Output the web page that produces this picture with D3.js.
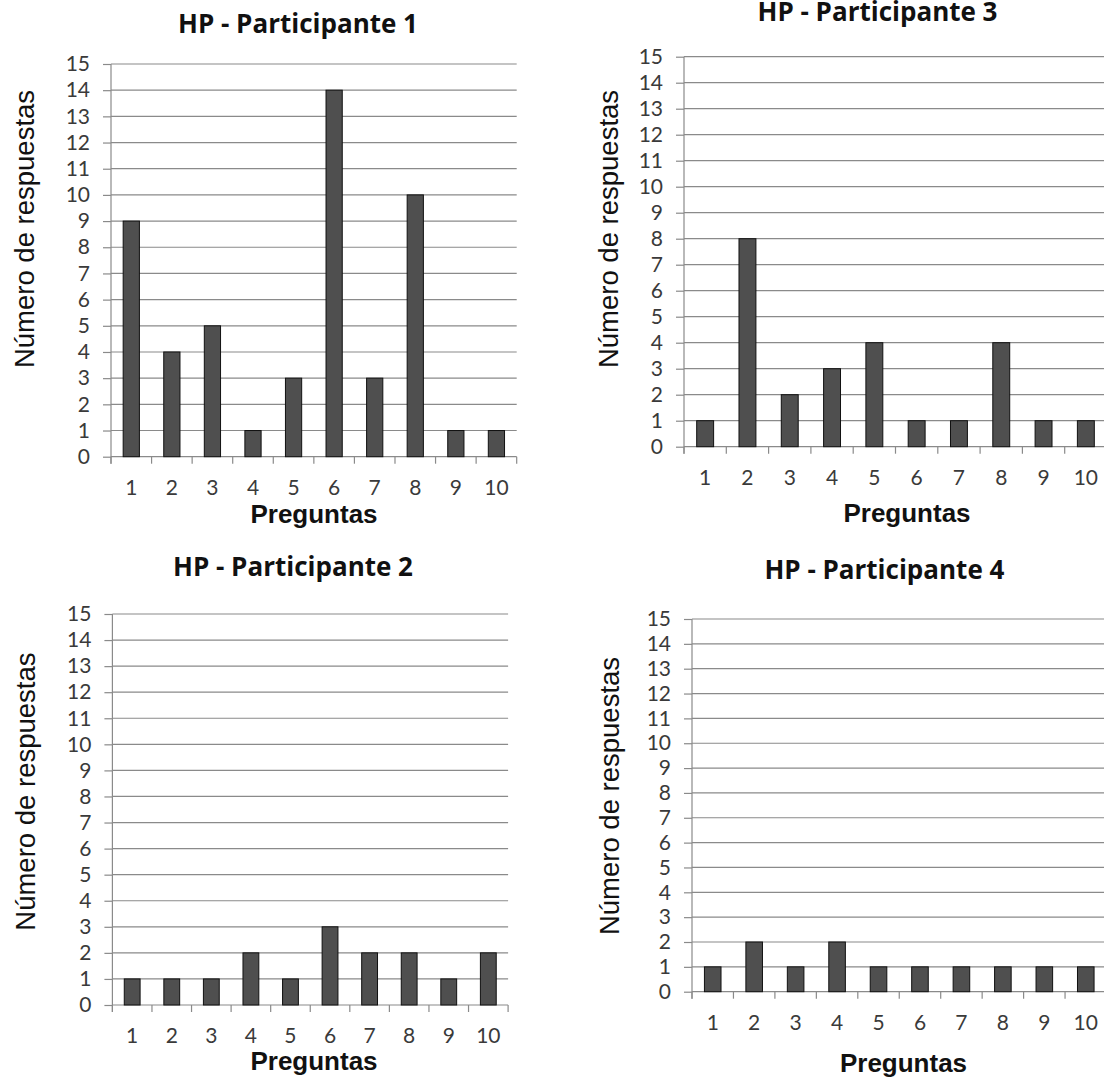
<!DOCTYPE html>
<html>
<head>
<meta charset="utf-8">
<script src="https://cdn.jsdelivr.net/npm/d3@7"></script>
<style>
  html, body { margin: 0; padding: 0; background: #ffffff; }
  svg { display: block; }
</style>
</head>
<body>
<svg id="chart" width="1104" height="1077"></svg>
<script>
// Questions (x categories) and the y tick values shared by every panel
const preguntas = ["1", "2", "3", "4", "5", "6", "7", "8", "9", "10"];
const yTicks = [0, 1, 2, 3, 4, 5, 6, 7, 8, 9, 10, 11, 12, 13, 14, 15];

// Number of answers per question, one array per participant
const participante1 = [9, 4, 5, 1, 3, 14, 3, 10, 1, 1];
const participante2 = [1, 1, 1, 2, 1, 3, 2, 2, 1, 2];
const participante3 = [1, 8, 2, 3, 4, 1, 1, 4, 1, 1];
const participante4 = [1, 2, 1, 2, 1, 1, 1, 1, 1, 1];

const titles = ["HP - Participante 1", "HP - Participante 2", "HP - Participante 3", "HP - Participante 4"];
const yTitle = "Número de respuestas";
const xTitle = "Preguntas";

// Placement of each small chart on the page
const panels = [
  { title: titles[0], values: participante1, left: 111,   right: 516.7, top: 64,   bottom: 456.7,
    titleX: 298, titleY: 33, yLabX: 33.5, yLabY: 229, xLabX: 314, xLabY: 523 },
  { title: titles[2], values: participante3, left: 684,   right: 1107,  top: 56.7, bottom: 446.7,
    titleX: 877.5, titleY: 21, yLabX: 618.3, yLabY: 229, xLabX: 907, xLabY: 521.5 },
  { title: titles[1], values: participante2, left: 112.4, right: 508.1, top: 614,  bottom: 1005,
    titleX: 293, titleY: 576, yLabX: 34.8, yLabY: 791.6, xLabX: 314, xLabY: 1070 },
  { title: titles[3], values: participante4, left: 692,   right: 1106.5, top: 619, bottom: 991.7,
    titleX: 884.4, titleY: 578.5, yLabX: 619, yLabY: 796, xLabX: 903.5, xLabY: 1072 }
];

const tickFont = "Lato, 'Open Sans', sans-serif";
const titleFont = "'Open Sans', Lato, sans-serif";
const gridColor = "#8a8a8a";
const barFill = "#4f4f4f";

const svg = d3.select("#chart");

panels.forEach(p => {
  const g = svg.append("g");

  const x = d3.scaleBand()
    .domain(preguntas)
    .range([p.left, p.right])
    .paddingInner(0.6)
    .paddingOuter(0.3);

  const y = d3.scaleLinear()
    .domain([0, 15])
    .range([p.bottom, p.top]);

  // horizontal gridlines (the 0 line doubles as the category axis)
  g.append("g")
    .selectAll("line")
    .data(yTicks)
    .join("line")
    .attr("x1", p.left)
    .attr("x2", p.right)
    .attr("y1", d => y(d))
    .attr("y2", d => y(d))
    .attr("stroke", gridColor)
    .attr("stroke-width", 1.2);

  // value axis with outward tick marks and labels
  const yAxis = g.append("g")
    .attr("transform", `translate(${p.left},0)`)
    .call(d3.axisLeft(y).tickValues(yTicks).tickSize(8).tickPadding(13).tickFormat(d3.format("d")));
  yAxis.select(".domain").remove();
  yAxis.selectAll(".tick line").attr("stroke", gridColor).attr("stroke-width", 1.2);
  yAxis.selectAll(".tick text")
    .attr("font-family", tickFont)
    .attr("font-size", 21)
    .attr("fill", "#3a3a3a");

  // vertical axis line, running past the baseline like the category ticks
  g.append("line")
    .attr("x1", p.left).attr("x2", p.left)
    .attr("y1", y(15)).attr("y2", y(0) + 7)
    .attr("stroke", gridColor)
    .attr("stroke-width", 1.2);

  // category boundary tick marks
  const step = x.step();
  const x0 = x.range()[0];
  g.append("g")
    .selectAll("line")
    .data(d3.range(preguntas.length + 1))
    .join("line")
    .attr("x1", i => x0 + i * step)
    .attr("x2", i => x0 + i * step)
    .attr("y1", y(0))
    .attr("y2", y(0) + 7)
    .attr("stroke", gridColor)
    .attr("stroke-width", 1.2);

  // category labels
  const xAxis = g.append("g")
    .attr("transform", `translate(0,${y(0)})`)
    .call(d3.axisBottom(x).tickSize(0).tickPadding(23));
  xAxis.select(".domain").remove();
  xAxis.selectAll(".tick text")
    .attr("font-family", tickFont)
    .attr("font-size", 21)
    .attr("fill", "#3a3a3a");

  // bars
  g.append("g")
    .selectAll("rect")
    .data(p.values)
    .join("rect")
    .attr("x", (d, i) => x(preguntas[i]))
    .attr("y", d => y(d))
    .attr("width", x.bandwidth())
    .attr("height", d => y(0) - y(d))
    .attr("fill", barFill)
    .attr("stroke", "#111111")
    .attr("stroke-width", 1);

  // chart title
  g.append("text")
    .attr("x", p.titleX)
    .attr("y", p.titleY)
    .attr("text-anchor", "middle")
    .attr("font-family", titleFont)
    .attr("font-weight", "bold")
    .attr("font-size", 26)
    .attr("fill", "#111111")
    .text(p.title);

  // value axis title
  g.append("text")
    .attr("transform", `translate(${p.yLabX},${p.yLabY}) rotate(-90)`)
    .attr("text-anchor", "middle")
    .attr("font-family", "'Liberation Sans', Arial, sans-serif")
    .attr("font-size", 27.5)
    .attr("fill", "#111111")
    .text(yTitle);

  // category axis title
  g.append("text")
    .attr("x", p.xLabX)
    .attr("y", p.xLabY)
    .attr("text-anchor", "middle")
    .attr("font-family", "'Liberation Sans', Arial, sans-serif")
    .attr("font-weight", "bold")
    .attr("font-size", 26)
    .attr("fill", "#111111")
    .text(xTitle);
});
</script>
</body>
</html>
